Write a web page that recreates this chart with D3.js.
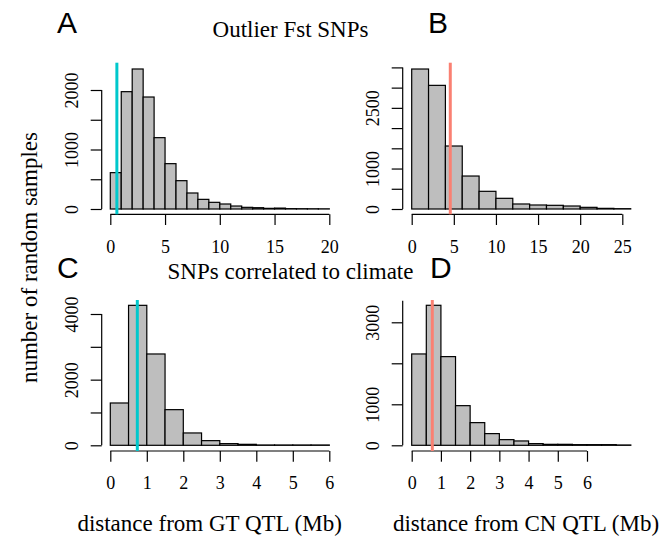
<!DOCTYPE html>
<html>
<head>
<meta charset="utf-8">
<script src="https://cdn.jsdelivr.net/npm/d3@7.9.0/dist/d3.min.js"></script>
<style>
  body { margin: 0; background: #fff; }
  svg { display: block; }
  .axis text { font-family: "Liberation Serif", "Times New Roman", serif; font-size: 18px; fill: #000; }
  .axis line, .axis path { stroke: #000; stroke-width: 1.2; }
</style>
</head>
<body>
<svg id="chart" width="666" height="537"></svg>
<script>
// histogram counts
const countsA = [611, 1972, 2353, 1882, 1199, 762, 476, 269, 162, 112, 84, 50, 28, 22, 11, 15, 6, 5, 4, 3];
const countsB = [3460, 3056, 1557, 815, 437, 264, 124, 99, 91, 74, 41, 16, 8];
const countsC = [1289, 4264, 2782, 1086, 376, 142, 51, 30, 10, 10, 10, 10];
const countsD = [2228, 3415, 2163, 967, 553, 285, 138, 106, 41, 24, 24, 16, 16, 16, 8];

const binWidths = { A: 1, B: 2, C: 0.5, D: 0.5 };
const observed = { A: 0.6, B: 4.58, C: 0.74, D: 0.705 };

const xTicksA = [0, 5, 10, 15, 20];
const xTicksB = [0, 5, 10, 15, 20, 25];
const xTicksCD = [0, 1, 2, 3, 4, 5, 6];

const yTicksA = [0, 500, 1000, 1500, 2000];
const yTicksB = [0, 500, 1000, 1500, 2000, 2500, 3000, 3500];
const yTicksC = [0, 1000, 2000, 3000, 4000];
const yTicksD = [0, 1000, 2000, 3000];

// R drops labels that would overlap
const yLabelsA = [0, 1000, 2000];
const yLabelsB = [0, 1000, 2500];
const yLabelsC = [0, 2000, 4000];
const yLabelsD = [0, 1000, 3000];

const panelLetters = ['A', 'B', 'C', 'D'];
const rowTitles = ['Outlier Fst SNPs', 'SNPs correlated to climate'];
const xTitles = ['distance from GT QTL (Mb)', 'distance from CN QTL (Mb)'];
const yTitle = 'number of random samples';

const cyan = '#00C8CC';
const salmon = '#FA8072';

const panels = [
  { id: 'A', counts: countsA, xTicks: xTicksA, yTicks: yTicksA, yLabels: yLabelsA, line: cyan,
    xDom: [0, 20], xRange: [110.3, 329.3], yDom: [0, 2000], yRange: [209, 90],
    axisX: 101.7, axisY: 214.3, top: 62.7, yTop: 2000 },
  { id: 'B', counts: countsB, xTicks: xTicksB, yTicks: yTicksB, yLabels: yLabelsB, line: salmon,
    xDom: [0, 25], xRange: [411.7, 622.3], yDom: [0, 3500], yRange: [209, 67.4],
    axisX: 402.7, axisY: 214.3, top: 62.7, yTop: 3500 },
  { id: 'C', counts: countsC, xTicks: xTicksCD, yTicks: yTicksC, yLabels: yLabelsC, line: cyan,
    xDom: [0, 6], xRange: [110.3, 329.3], yDom: [0, 4000], yRange: [445.3, 314],
    axisX: 101.7, axisY: 451, top: 300, yTop: 4000 },
  { id: 'D', counts: countsD, xTicks: xTicksCD, yTicks: yTicksD, yLabels: yLabelsD, line: salmon,
    xDom: [0, 6], xRange: [411.7, 587], yDom: [0, 3000], yRange: [445.3, 322.3],
    axisX: 402.7, axisY: 451, top: 300, yTop: 3528 }
];

const svg = d3.select('#chart');

panels.forEach(p => {
  const x = d3.scaleLinear().domain(p.xDom).range(p.xRange);
  const y = d3.scaleLinear().domain(p.yDom).range(p.yRange);
  const w = binWidths[p.id];
  const g = svg.append('g');

  g.selectAll('rect')
    .data(p.counts)
    .join('rect')
    .attr('x', (d, i) => x(i * w))
    .attr('width', (d, i) => x((i + 1) * w) - x(i * w))
    .attr('y', d => y(d))
    .attr('height', d => y(0) - y(d))
    .attr('fill', '#BEBEBE')
    .attr('stroke', '#000')
    .attr('stroke-width', 1.2);

  // x axis
  const xa = g.append('g')
    .attr('class', 'axis')
    .attr('transform', `translate(0,${p.axisY})`)
    .call(d3.axisBottom(x).tickValues(p.xTicks).tickSize(10.7).tickSizeOuter(0).tickFormat(d3.format('d')));
  xa.select('.domain').remove();
  xa.append('line')
    .attr('x1', x(p.xTicks[0])).attr('x2', x(p.xTicks[p.xTicks.length - 1]))
    .attr('y1', 0).attr('y2', 0);
  xa.selectAll('.tick text').attr('dy', null).attr('y', 38.4);

  // y axis
  const ya = g.append('g')
    .attr('class', 'axis')
    .attr('transform', `translate(${p.axisX},0)`)
    .call(d3.axisLeft(y).tickValues(p.yTicks).tickSize(11).tickSizeOuter(0)
      .tickFormat(d => p.yLabels.includes(d) ? String(d) : ''));
  ya.select('.domain').remove();
  ya.append('line')
    .attr('x1', 0).attr('x2', 0)
    .attr('y1', y(0)).attr('y2', y(p.yTop));
  ya.selectAll('.tick text')
    .attr('x', null).attr('dy', null)
    .attr('text-anchor', 'middle')
    .attr('transform', 'translate(-23.4,0) rotate(-90)');

  // observed distance
  g.append('line')
    .attr('x1', x(observed[p.id])).attr('x2', x(observed[p.id]))
    .attr('y1', p.top).attr('y2', p.axisY)
    .attr('stroke', p.line)
    .attr('stroke-width', 3);
});

const serif = '"Liberation Serif", "Times New Roman", serif';
const sans = '"Liberation Sans", Arial, sans-serif';

const letterPos = [[57, 33], [428, 33], [57, 278], [430, 278]];
svg.selectAll('text.letter')
  .data(panelLetters)
  .join('text')
  .attr('class', 'letter')
  .attr('x', (d, i) => letterPos[i][0])
  .attr('y', (d, i) => letterPos[i][1])
  .attr('font-family', sans)
  .attr('font-size', 30)
  .text(d => d);

svg.selectAll('text.row')
  .data(rowTitles)
  .join('text')
  .attr('class', 'row')
  .attr('x', 290.5)
  .attr('y', (d, i) => [37, 279.3][i])
  .attr('text-anchor', 'middle')
  .attr('font-family', serif)
  .attr('font-size', 23)
  .text(d => d);

svg.selectAll('text.xt')
  .data(xTitles)
  .join('text')
  .attr('class', 'xt')
  .attr('x', (d, i) => [209.6, 526][i])
  .attr('y', 531)
  .attr('text-anchor', 'middle')
  .attr('font-family', serif)
  .attr('font-size', 23)
  .text(d => d);

svg.append('text')
  .attr('transform', 'translate(37,257.5) rotate(-90)')
  .attr('text-anchor', 'middle')
  .attr('font-family', serif)
  .attr('font-size', 23)
  .text(yTitle);
</script>
</body>
</html>
